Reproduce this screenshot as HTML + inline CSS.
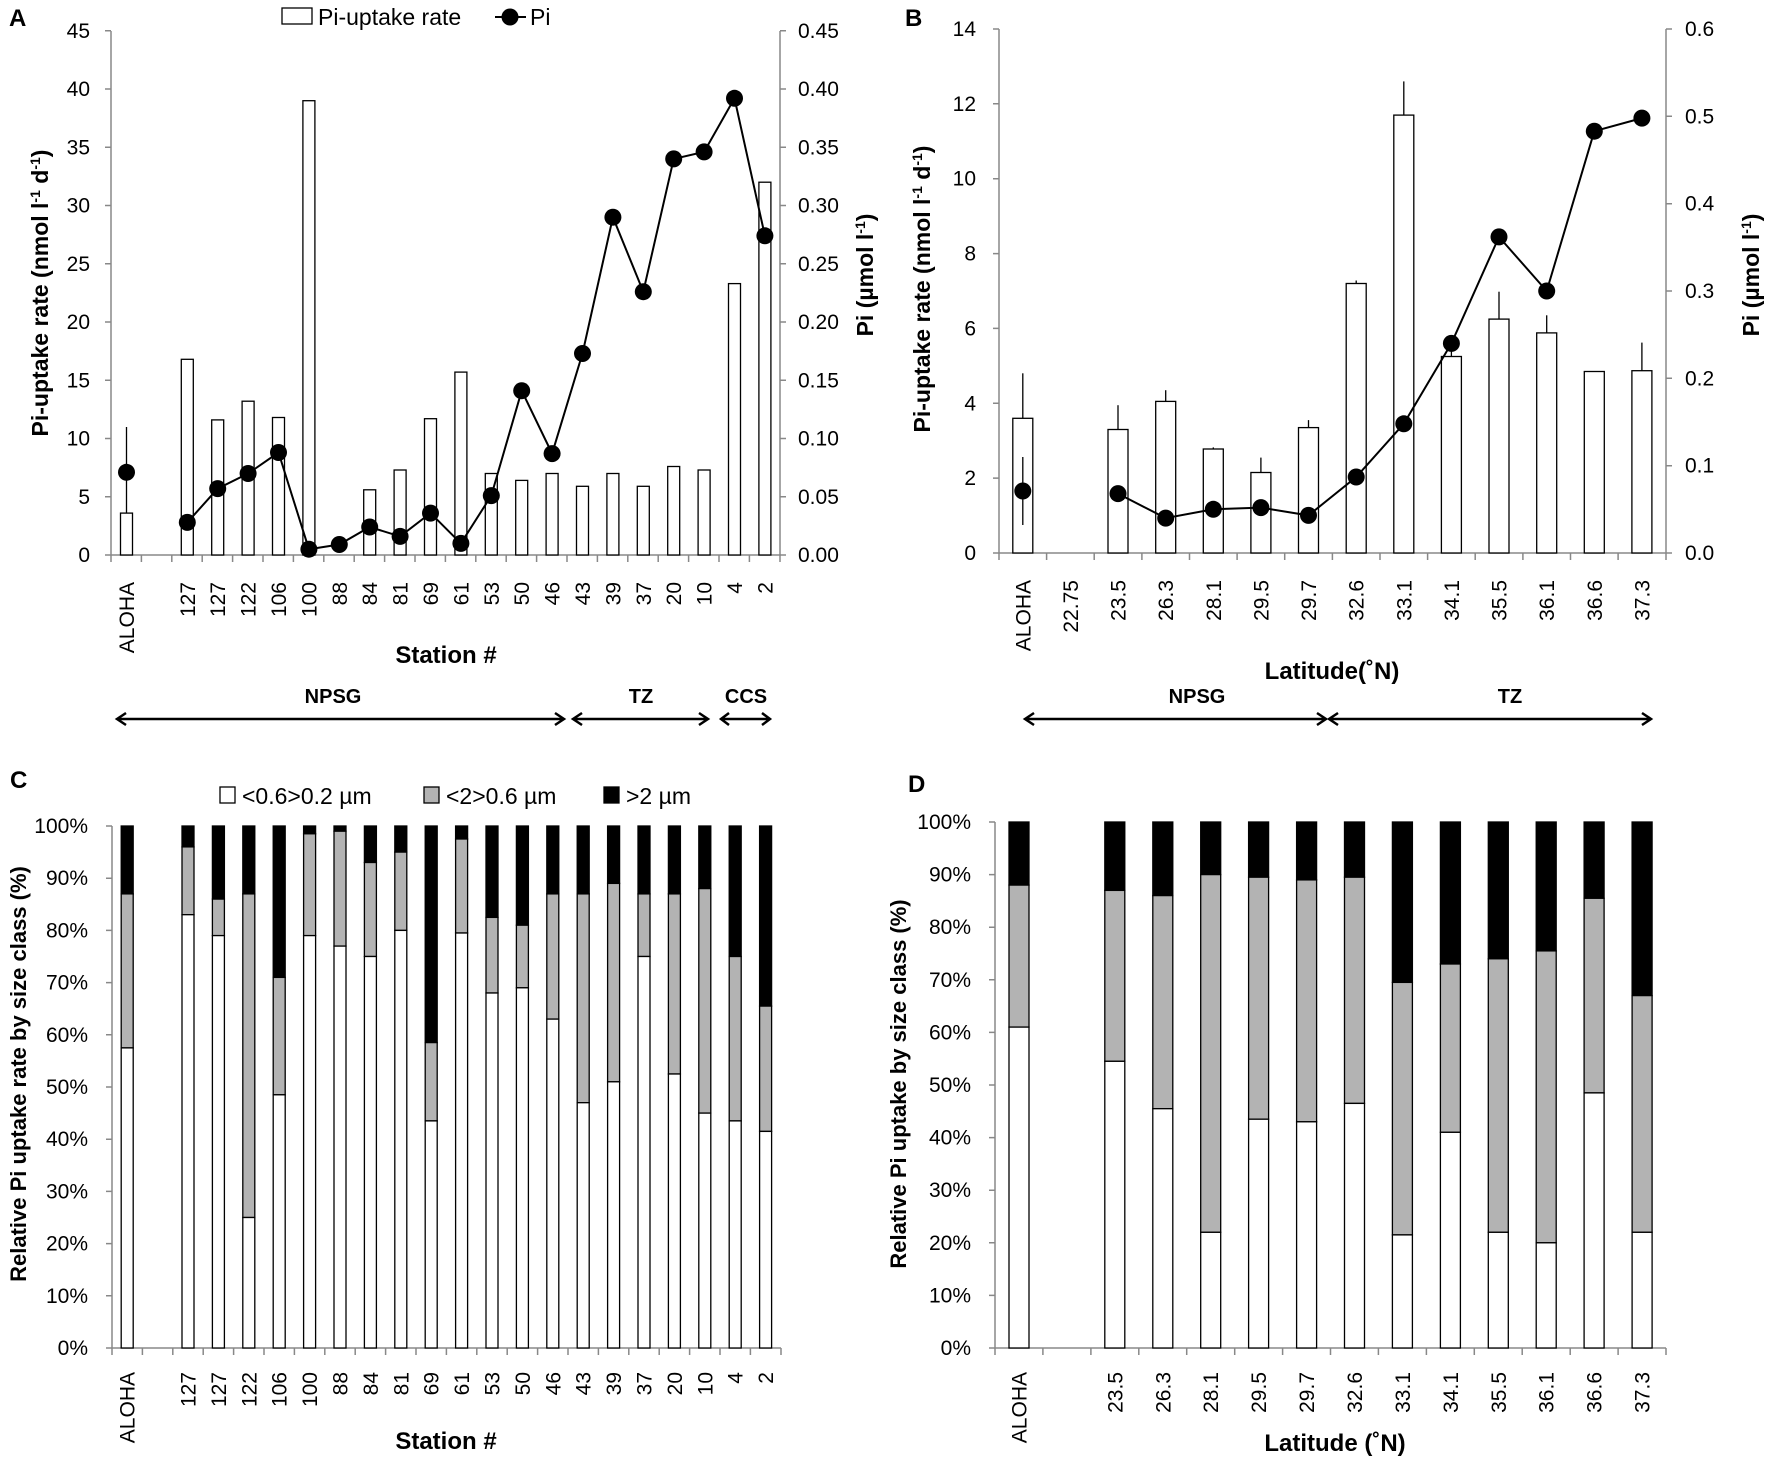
<!DOCTYPE html>
<html><head><meta charset="utf-8"><style>
html,body{margin:0;padding:0;background:#fff}
svg{display:block}
text{font-family:"Liberation Sans",sans-serif;fill:#000}
.t{font-size:21px}
.b{font-weight:bold}
.ax{stroke:#888;stroke-width:1.5;fill:none}
.bar{fill:#fff;stroke:#000;stroke-width:1.3}
.gr{fill:#b3b3b3;stroke:#000;stroke-width:1.3}
.bk{fill:#000;stroke:#000;stroke-width:1.3}
.ln{stroke:#000;stroke-width:2;fill:none}
.er{stroke:#000;stroke-width:1.3}
.arr{stroke:#000;stroke-width:2.5;fill:none}
</style></head><body>
<svg width="1772" height="1460" viewBox="0 0 1772 1460" xmlns="http://www.w3.org/2000/svg">
<!-- ===== PANEL A ===== -->
<text x="9" y="26" class="b" font-size="24">A</text>
<rect x="282" y="8" width="30" height="16" class="bar"/>
<text x="318" y="25" font-size="23">Pi-uptake rate</text>
<line x1="495" y1="17" x2="526" y2="17" class="ln"/><circle cx="510" cy="17" r="8.5"/>
<text x="530" y="25" font-size="23">Pi</text>
<path class="ax" d="M111,31 V555 H780 V31"/>
<path class="ax" d="M105,555H111M105,496.75H111M105,438.5H111M105,380.25H111M105,322H111M105,263.75H111M105,205.5H111M105,147.25H111M105,89H111M105,30.75H111"/>
<path class="ax" d="M780,555H786M780,496.75H786M780,438.5H786M780,380.25H786M780,322H786M780,263.75H786M780,205.5H786M780,147.25H786M780,89H786M780,30.75H786"/>
<path class="ax" d="M111,555v7M141.4,555v7M171.8,555v7M202.2,555v7M232.6,555v7M263,555v7M293.4,555v7M323.8,555v7M354.2,555v7M384.6,555v7M415,555v7M445.4,555v7M475.8,555v7M506.2,555v7M536.6,555v7M567,555v7M597.4,555v7M627.8,555v7M658.2,555v7M688.6,555v7M719,555v7M749.4,555v7M780,555v7"/>
<g class="t" text-anchor="end">
<text x="90" y="562">0</text><text x="90" y="503.75">5</text><text x="90" y="445.5">10</text><text x="90" y="387.25">15</text><text x="90" y="329">20</text><text x="90" y="270.75">25</text><text x="90" y="212.5">30</text><text x="90" y="154.25">35</text><text x="90" y="96">40</text><text x="90" y="37.75">45</text>
</g>
<g class="t">
<text x="798" y="562">0.00</text><text x="798" y="503.75">0.05</text><text x="798" y="445.5">0.10</text><text x="798" y="387.25">0.15</text><text x="798" y="329">0.20</text><text x="798" y="270.75">0.25</text><text x="798" y="212.5">0.30</text><text x="798" y="154.25">0.35</text><text x="798" y="96">0.40</text><text x="798" y="37.75">0.45</text>
</g>
<text transform="translate(48,293) rotate(-90)" text-anchor="middle" class="b" font-size="23">Pi-uptake rate (nmol l<tspan font-size="14" dy="-8">-1</tspan><tspan dy="8"> d</tspan><tspan font-size="14" dy="-8">-1</tspan><tspan dy="8">)</tspan></text>
<text transform="translate(873,275) rotate(-90)" text-anchor="middle" class="b" font-size="23">Pi (µmol l<tspan font-size="14" dy="-8">-1</tspan><tspan dy="8">)</tspan></text>
<g class="bar">
<rect x="120.5" y="513.1" width="12" height="41.9"/>
<rect x="181.3" y="359.3" width="12" height="195.7"/>
<rect x="211.7" y="419.9" width="12" height="135.1"/>
<rect x="242.1" y="401.2" width="12" height="153.8"/>
<rect x="272.5" y="417.5" width="12" height="137.5"/>
<rect x="302.9" y="100.7" width="12" height="454.3"/>
<rect x="363.7" y="489.8" width="12" height="65.2"/>
<rect x="394.1" y="470" width="12" height="85"/>
<rect x="424.5" y="418.7" width="12" height="136.3"/>
<rect x="454.9" y="372.1" width="12" height="182.9"/>
<rect x="485.3" y="473.5" width="12" height="81.5"/>
<rect x="515.7" y="480.4" width="12" height="74.6"/>
<rect x="546.1" y="473.5" width="12" height="81.5"/>
<rect x="576.5" y="486.3" width="12" height="68.7"/>
<rect x="606.9" y="473.5" width="12" height="81.5"/>
<rect x="637.3" y="486.3" width="12" height="68.7"/>
<rect x="667.7" y="466.5" width="12" height="88.5"/>
<rect x="698.1" y="470" width="12" height="85"/>
<rect x="728.5" y="283.6" width="12" height="271.4"/>
<rect x="758.9" y="182.2" width="12" height="372.8"/>
</g>
<line x1="126.5" y1="427" x2="126.5" y2="513" class="er"/>
<polyline class="ln" points="187.3,522.4 217.7,488.6 248.1,473.5 278.5,452.5 308.9,549.2 339.3,544.5 369.7,527 400.1,536.4 430.5,513.1 460.9,543.4 491.3,495.6 521.7,390.7 552.1,453.6 582.5,353.5 612.9,217.2 643.3,291.7 673.7,158.9 704.1,151.9 734.5,98.3 764.9,235.8"/>
<g>
<circle cx="126.5" cy="472.3" r="8.5"/><circle cx="187.3" cy="522.4" r="8.5"/><circle cx="217.7" cy="488.6" r="8.5"/><circle cx="248.1" cy="473.5" r="8.5"/><circle cx="278.5" cy="452.5" r="8.5"/><circle cx="308.9" cy="549.2" r="8.5"/><circle cx="339.3" cy="544.5" r="8.5"/><circle cx="369.7" cy="527" r="8.5"/><circle cx="400.1" cy="536.4" r="8.5"/><circle cx="430.5" cy="513.1" r="8.5"/><circle cx="460.9" cy="543.4" r="8.5"/><circle cx="491.3" cy="495.6" r="8.5"/><circle cx="521.7" cy="390.7" r="8.5"/><circle cx="552.1" cy="453.6" r="8.5"/><circle cx="582.5" cy="353.5" r="8.5"/><circle cx="612.9" cy="217.2" r="8.5"/><circle cx="643.3" cy="291.7" r="8.5"/><circle cx="673.7" cy="158.9" r="8.5"/><circle cx="704.1" cy="151.9" r="8.5"/><circle cx="734.5" cy="98.3" r="8.5"/><circle cx="764.9" cy="235.8" r="8.5"/>
</g>
<g class="t" text-anchor="end">
<text transform="translate(134,582) rotate(-90)">ALOHA</text>
<text transform="translate(194.8,582) rotate(-90)">127</text>
<text transform="translate(225.2,582) rotate(-90)">127</text>
<text transform="translate(255.6,582) rotate(-90)">122</text>
<text transform="translate(286,582) rotate(-90)">106</text>
<text transform="translate(316.4,582) rotate(-90)">100</text>
<text transform="translate(346.8,582) rotate(-90)">88</text>
<text transform="translate(377.2,582) rotate(-90)">84</text>
<text transform="translate(407.6,582) rotate(-90)">81</text>
<text transform="translate(438,582) rotate(-90)">69</text>
<text transform="translate(468.4,582) rotate(-90)">61</text>
<text transform="translate(498.8,582) rotate(-90)">53</text>
<text transform="translate(529.2,582) rotate(-90)">50</text>
<text transform="translate(559.6,582) rotate(-90)">46</text>
<text transform="translate(590,582) rotate(-90)">43</text>
<text transform="translate(620.4,582) rotate(-90)">39</text>
<text transform="translate(650.8,582) rotate(-90)">37</text>
<text transform="translate(681.2,582) rotate(-90)">20</text>
<text transform="translate(711.6,582) rotate(-90)">10</text>
<text transform="translate(742,582) rotate(-90)">4</text>
<text transform="translate(772.4,582) rotate(-90)">2</text>
</g>
<text x="446" y="663" text-anchor="middle" class="b" font-size="24">Station #</text>
<g class="b" font-size="20" text-anchor="middle">
<text x="333" y="703">NPSG</text><text x="641" y="703">TZ</text><text x="746" y="703">CCS</text>
</g>
<path class="arr" d="M117,719H564M126,713L117,719L126,725M555,713L564,719L555,725"/>
<path class="arr" d="M573,719H708M582,713L573,719L582,725M699,713L708,719L699,725"/>
<path class="arr" d="M721,719H770M729,713L721,719L729,725M762,713L770,719L762,725"/>

<!-- ===== PANEL B ===== -->
<text x="905" y="26" class="b" font-size="24">B</text>
<path class="ax" d="M999,29 V553 H1666 V29"/>
<path class="ax" d="M993,553H999M993,478.1H999M993,403.3H999M993,328.4H999M993,253.6H999M993,178.7H999M993,103.8H999M993,29H999"/>
<path class="ax" d="M1666,553H1672M1666,465.7H1672M1666,378.3H1672M1666,291H1672M1666,203.7H1672M1666,116.3H1672M1666,29H1672"/>
<path class="ax" d="M999,553v7M1046.6,553v7M1094.2,553v7M1141.9,553v7M1189.5,553v7M1237.1,553v7M1284.7,553v7M1332.4,553v7M1380,553v7M1427.6,553v7M1475.2,553v7M1522.9,553v7M1570.5,553v7M1618.1,553v7M1666,553v7"/>
<g class="t" text-anchor="end">
<text x="976" y="560">0</text><text x="976" y="485.1">2</text><text x="976" y="410.3">4</text><text x="976" y="335.4">6</text><text x="976" y="260.6">8</text><text x="976" y="185.7">10</text><text x="976" y="110.8">12</text><text x="976" y="36">14</text>
</g>
<g class="t">
<text x="1685" y="560">0.0</text><text x="1685" y="472.7">0.1</text><text x="1685" y="385.3">0.2</text><text x="1685" y="298">0.3</text><text x="1685" y="210.7">0.4</text><text x="1685" y="123.3">0.5</text><text x="1685" y="36">0.6</text>
</g>
<text transform="translate(930,289) rotate(-90)" text-anchor="middle" class="b" font-size="23">Pi-uptake rate (nmol l<tspan font-size="14" dy="-8">-1</tspan><tspan dy="8"> d</tspan><tspan font-size="14" dy="-8">-1</tspan><tspan dy="8">)</tspan></text>
<text transform="translate(1759,275) rotate(-90)" text-anchor="middle" class="b" font-size="23">Pi (µmol l<tspan font-size="14" dy="-8">-1</tspan><tspan dy="8">)</tspan></text>
<g class="er">
<line x1="1022.8" y1="373.3" x2="1022.8" y2="418.3"/>
<line x1="1118" y1="405.2" x2="1118" y2="429.5"/>
<line x1="1165.7" y1="390.2" x2="1165.7" y2="401.4"/>
<line x1="1213.3" y1="447.4" x2="1213.3" y2="449"/>
<line x1="1260.9" y1="457.6" x2="1260.9" y2="472.5"/>
<line x1="1308.5" y1="420.1" x2="1308.5" y2="427.6"/>
<line x1="1356.2" y1="280.5" x2="1356.2" y2="283.5"/>
<line x1="1403.8" y1="81.4" x2="1403.8" y2="115.1"/>
<line x1="1451.4" y1="350.9" x2="1451.4" y2="356.5"/>
<line x1="1499" y1="291.7" x2="1499" y2="319.1"/>
<line x1="1546.7" y1="315.3" x2="1546.7" y2="332.9"/>
<line x1="1641.9" y1="342.6" x2="1641.9" y2="370.7"/>
</g>
<g class="bar">
<rect x="1012.8" y="418.3" width="20" height="134.7"/>
<rect x="1108" y="429.5" width="20" height="123.5"/>
<rect x="1155.7" y="401.4" width="20" height="151.6"/>
<rect x="1203.3" y="449" width="20" height="104"/>
<rect x="1250.9" y="472.5" width="20" height="80.5"/>
<rect x="1298.5" y="427.6" width="20" height="125.4"/>
<rect x="1346.2" y="283.5" width="20" height="269.5"/>
<rect x="1393.8" y="115.1" width="20" height="437.9"/>
<rect x="1441.4" y="356.5" width="20" height="196.5"/>
<rect x="1489" y="319.1" width="20" height="233.9"/>
<rect x="1536.7" y="332.9" width="20" height="220.1"/>
<rect x="1584.3" y="371.5" width="20" height="181.5"/>
<rect x="1631.9" y="370.7" width="20" height="182.3"/>
</g>
<line x1="1022.8" y1="457" x2="1022.8" y2="525" class="er"/>
<polyline class="ln" points="1118,493.6 1165.7,518.1 1213.3,509.3 1260.9,507.6 1308.5,515.4 1356.2,477 1403.8,423.8 1451.4,343.4 1499,236.9 1546.7,291 1594.3,131.2 1641.9,118.1"/>
<g>
<circle cx="1022.8" cy="491" r="8.5"/><circle cx="1118" cy="493.6" r="8.5"/><circle cx="1165.7" cy="518.1" r="8.5"/><circle cx="1213.3" cy="509.3" r="8.5"/><circle cx="1260.9" cy="507.6" r="8.5"/><circle cx="1308.5" cy="515.4" r="8.5"/><circle cx="1356.2" cy="477" r="8.5"/><circle cx="1403.8" cy="423.8" r="8.5"/><circle cx="1451.4" cy="343.4" r="8.5"/><circle cx="1499" cy="236.9" r="8.5"/><circle cx="1546.7" cy="291" r="8.5"/><circle cx="1594.3" cy="131.2" r="8.5"/><circle cx="1641.9" cy="118.1" r="8.5"/>
</g>
<g class="t" text-anchor="end">
<text transform="translate(1030.3,580) rotate(-90)">ALOHA</text>
<text transform="translate(1077.9,580) rotate(-90)">22.75</text>
<text transform="translate(1125.5,580) rotate(-90)">23.5</text>
<text transform="translate(1173.2,580) rotate(-90)">26.3</text>
<text transform="translate(1220.8,580) rotate(-90)">28.1</text>
<text transform="translate(1268.4,580) rotate(-90)">29.5</text>
<text transform="translate(1316,580) rotate(-90)">29.7</text>
<text transform="translate(1363.7,580) rotate(-90)">32.6</text>
<text transform="translate(1411.3,580) rotate(-90)">33.1</text>
<text transform="translate(1458.9,580) rotate(-90)">34.1</text>
<text transform="translate(1506.5,580) rotate(-90)">35.5</text>
<text transform="translate(1554.2,580) rotate(-90)">36.1</text>
<text transform="translate(1601.8,580) rotate(-90)">36.6</text>
<text transform="translate(1649.4,580) rotate(-90)">37.3</text>
</g>
<text x="1332" y="679" text-anchor="middle" class="b" font-size="24">Latitude(˚N)</text>
<g class="b" font-size="20" text-anchor="middle">
<text x="1197" y="703">NPSG</text><text x="1510" y="703">TZ</text>
</g>
<path class="arr" d="M1025,719H1326M1034,713L1025,719L1034,725M1317,713L1326,719L1317,725"/>
<path class="arr" d="M1329,719H1651M1338,713L1329,719L1338,725M1642,713L1651,719L1642,725"/>

<!-- ===== PANEL C ===== -->
<text x="10" y="788" class="b" font-size="24">C</text>
<rect x="220" y="787" width="15" height="16" class="bar"/><text x="242" y="804" font-size="23">&lt;0.6&gt;0.2 µm</text>
<rect x="424" y="787" width="15" height="16" class="gr"/><text x="446" y="804" font-size="23">&lt;2&gt;0.6 µm</text>
<rect x="604" y="787" width="15" height="16" class="bk"/><text x="626" y="804" font-size="23">&gt;2 µm</text>
<path class="ax" d="M112,826 V1348 H781"/>
<path class="ax" d="M106,1348H112M106,1295.8H112M106,1243.6H112M106,1191.4H112M106,1139.2H112M106,1087H112M106,1034.8H112M106,982.6H112M106,930.4H112M106,878.2H112M106,826H112"/>
<path class="ax" d="M112,1348v7M142.4,1348v7M172.8,1348v7M203.2,1348v7M233.6,1348v7M264,1348v7M294.4,1348v7M324.8,1348v7M355.2,1348v7M385.6,1348v7M416,1348v7M446.4,1348v7M476.8,1348v7M507.2,1348v7M537.6,1348v7M568,1348v7M598.4,1348v7M628.8,1348v7M659.2,1348v7M689.6,1348v7M720,1348v7M750.4,1348v7M781,1348v7"/>
<g class="t" text-anchor="end">
<text x="88" y="1355">0%</text><text x="88" y="1302.8">10%</text><text x="88" y="1250.6">20%</text><text x="88" y="1198.4">30%</text><text x="88" y="1146.2">40%</text><text x="88" y="1094">50%</text><text x="88" y="1041.8">60%</text><text x="88" y="989.6">70%</text><text x="88" y="937.4">80%</text><text x="88" y="885.2">90%</text><text x="88" y="833">100%</text>
</g>
<text transform="translate(26,1074) rotate(-90)" text-anchor="middle" class="b" font-size="22">Relative Pi uptake rate by size class (%)</text>
<g>
<rect class="bk" x="121.2" y="826" width="12" height="67.9"/><rect class="gr" x="121.2" y="893.9" width="12" height="154"/><rect class="bar" x="121.2" y="1047.9" width="12" height="300.1"/>
<rect class="bk" x="182" y="826" width="12" height="20.9"/><rect class="gr" x="182" y="846.9" width="12" height="67.8"/><rect class="bar" x="182" y="914.7" width="12" height="433.3"/>
<rect class="bk" x="212.4" y="826" width="12" height="73.1"/><rect class="gr" x="212.4" y="899.1" width="12" height="36.5"/><rect class="bar" x="212.4" y="935.6" width="12" height="412.4"/>
<rect class="bk" x="242.8" y="826" width="12" height="67.9"/><rect class="gr" x="242.8" y="893.9" width="12" height="323.6"/><rect class="bar" x="242.8" y="1217.5" width="12" height="130.5"/>
<rect class="bk" x="273.2" y="826" width="12" height="151.4"/><rect class="gr" x="273.2" y="977.4" width="12" height="117.4"/><rect class="bar" x="273.2" y="1094.8" width="12" height="253.2"/>
<rect class="bk" x="303.6" y="826" width="12" height="7.8"/><rect class="gr" x="303.6" y="833.8" width="12" height="101.8"/><rect class="bar" x="303.6" y="935.6" width="12" height="412.4"/>
<rect class="bk" x="334" y="826" width="12" height="5.2"/><rect class="gr" x="334" y="831.2" width="12" height="114.9"/><rect class="bar" x="334" y="946.1" width="12" height="401.9"/>
<rect class="bk" x="364.4" y="826" width="12" height="36.5"/><rect class="gr" x="364.4" y="862.5" width="12" height="94"/><rect class="bar" x="364.4" y="956.5" width="12" height="391.5"/>
<rect class="bk" x="394.8" y="826" width="12" height="26.1"/><rect class="gr" x="394.8" y="852.1" width="12" height="78.3"/><rect class="bar" x="394.8" y="930.4" width="12" height="417.6"/>
<rect class="bk" x="425.2" y="826" width="12" height="216.6"/><rect class="gr" x="425.2" y="1042.6" width="12" height="78.3"/><rect class="bar" x="425.2" y="1120.9" width="12" height="227.1"/>
<rect class="bk" x="455.6" y="826" width="12" height="13"/><rect class="gr" x="455.6" y="839" width="12" height="94"/><rect class="bar" x="455.6" y="933" width="12" height="415"/>
<rect class="bk" x="486" y="826" width="12" height="91.4"/><rect class="gr" x="486" y="917.4" width="12" height="75.6"/><rect class="bar" x="486" y="993" width="12" height="355"/>
<rect class="bk" x="516.4" y="826" width="12" height="99.2"/><rect class="gr" x="516.4" y="925.2" width="12" height="62.6"/><rect class="bar" x="516.4" y="987.8" width="12" height="360.2"/>
<rect class="bk" x="546.8" y="826" width="12" height="67.9"/><rect class="gr" x="546.8" y="893.9" width="12" height="125.2"/><rect class="bar" x="546.8" y="1019.1" width="12" height="328.9"/>
<rect class="bk" x="577.2" y="826" width="12" height="67.9"/><rect class="gr" x="577.2" y="893.9" width="12" height="208.8"/><rect class="bar" x="577.2" y="1102.7" width="12" height="245.3"/>
<rect class="bk" x="607.6" y="826" width="12" height="57.4"/><rect class="gr" x="607.6" y="883.4" width="12" height="198.4"/><rect class="bar" x="607.6" y="1081.8" width="12" height="266.2"/>
<rect class="bk" x="638" y="826" width="12" height="67.9"/><rect class="gr" x="638" y="893.9" width="12" height="62.6"/><rect class="bar" x="638" y="956.5" width="12" height="391.5"/>
<rect class="bk" x="668.4" y="826" width="12" height="67.9"/><rect class="gr" x="668.4" y="893.9" width="12" height="180.1"/><rect class="bar" x="668.4" y="1074" width="12" height="274"/>
<rect class="bk" x="698.8" y="826" width="12" height="62.6"/><rect class="gr" x="698.8" y="888.6" width="12" height="224.5"/><rect class="bar" x="698.8" y="1113.1" width="12" height="234.9"/>
<rect class="bk" x="729.2" y="826" width="12" height="130.5"/><rect class="gr" x="729.2" y="956.5" width="12" height="164.4"/><rect class="bar" x="729.2" y="1120.9" width="12" height="227.1"/>
<rect class="bk" x="759.6" y="826" width="12" height="180.1"/><rect class="gr" x="759.6" y="1006.1" width="12" height="125.3"/><rect class="bar" x="759.6" y="1131.4" width="12" height="216.6"/>
</g>
<g class="t" text-anchor="end">
<text transform="translate(134.7,1372) rotate(-90)">ALOHA</text>
<text transform="translate(195.5,1372) rotate(-90)">127</text>
<text transform="translate(225.9,1372) rotate(-90)">127</text>
<text transform="translate(256.3,1372) rotate(-90)">122</text>
<text transform="translate(286.7,1372) rotate(-90)">106</text>
<text transform="translate(317.1,1372) rotate(-90)">100</text>
<text transform="translate(347.5,1372) rotate(-90)">88</text>
<text transform="translate(377.9,1372) rotate(-90)">84</text>
<text transform="translate(408.3,1372) rotate(-90)">81</text>
<text transform="translate(438.7,1372) rotate(-90)">69</text>
<text transform="translate(469.1,1372) rotate(-90)">61</text>
<text transform="translate(499.5,1372) rotate(-90)">53</text>
<text transform="translate(529.9,1372) rotate(-90)">50</text>
<text transform="translate(560.3,1372) rotate(-90)">46</text>
<text transform="translate(590.7,1372) rotate(-90)">43</text>
<text transform="translate(621.1,1372) rotate(-90)">39</text>
<text transform="translate(651.5,1372) rotate(-90)">37</text>
<text transform="translate(681.9,1372) rotate(-90)">20</text>
<text transform="translate(712.3,1372) rotate(-90)">10</text>
<text transform="translate(742.7,1372) rotate(-90)">4</text>
<text transform="translate(773.1,1372) rotate(-90)">2</text>
</g>
<text x="446" y="1449" text-anchor="middle" class="b" font-size="24">Station #</text>

<!-- ===== PANEL D ===== -->
<text x="908" y="792" class="b" font-size="24">D</text>
<path class="ax" d="M995,822 V1348 H1666"/>
<path class="ax" d="M989,1348H995M989,1295.4H995M989,1242.8H995M989,1190.2H995M989,1137.6H995M989,1085H995M989,1032.4H995M989,979.8H995M989,927.2H995M989,874.6H995M989,822H995"/>
<path class="ax" d="M995,1348v7M1042.9,1348v7M1090.9,1348v7M1138.8,1348v7M1186.7,1348v7M1234.7,1348v7M1282.6,1348v7M1330.5,1348v7M1378.4,1348v7M1426.4,1348v7M1474.3,1348v7M1522.2,1348v7M1570.2,1348v7M1618.1,1348v7M1666,1348v7"/>
<g class="t" text-anchor="end">
<text x="971" y="1355">0%</text><text x="971" y="1302.4">10%</text><text x="971" y="1249.8">20%</text><text x="971" y="1197.2">30%</text><text x="971" y="1144.6">40%</text><text x="971" y="1092">50%</text><text x="971" y="1039.4">60%</text><text x="971" y="986.8">70%</text><text x="971" y="934.2">80%</text><text x="971" y="881.6">90%</text><text x="971" y="829">100%</text>
</g>
<text transform="translate(906,1084) rotate(-90)" text-anchor="middle" class="b" font-size="22">Relative Pi uptake by size class (%)</text>
<g>
<rect class="bk" x="1009" y="822" width="20" height="63.1"/><rect class="gr" x="1009" y="885.1" width="20" height="142"/><rect class="bar" x="1009" y="1027.1" width="20" height="320.9"/>
<rect class="bk" x="1104.8" y="822" width="20" height="68.4"/><rect class="gr" x="1104.8" y="890.4" width="20" height="170.9"/><rect class="bar" x="1104.8" y="1061.3" width="20" height="286.7"/>
<rect class="bk" x="1152.8" y="822" width="20" height="73.6"/><rect class="gr" x="1152.8" y="895.6" width="20" height="213.1"/><rect class="bar" x="1152.8" y="1108.7" width="20" height="239.3"/>
<rect class="bk" x="1200.7" y="822" width="20" height="52.6"/><rect class="gr" x="1200.7" y="874.6" width="20" height="357.7"/><rect class="bar" x="1200.7" y="1232.3" width="20" height="115.7"/>
<rect class="bk" x="1248.6" y="822" width="20" height="55.2"/><rect class="gr" x="1248.6" y="877.2" width="20" height="242"/><rect class="bar" x="1248.6" y="1119.2" width="20" height="228.8"/>
<rect class="bk" x="1296.6" y="822" width="20" height="57.9"/><rect class="gr" x="1296.6" y="879.9" width="20" height="241.9"/><rect class="bar" x="1296.6" y="1121.8" width="20" height="226.2"/>
<rect class="bk" x="1344.5" y="822" width="20" height="55.2"/><rect class="gr" x="1344.5" y="877.2" width="20" height="226.2"/><rect class="bar" x="1344.5" y="1103.4" width="20" height="244.6"/>
<rect class="bk" x="1392.4" y="822" width="20" height="160.4"/><rect class="gr" x="1392.4" y="982.4" width="20" height="252.5"/><rect class="bar" x="1392.4" y="1234.9" width="20" height="113.1"/>
<rect class="bk" x="1440.4" y="822" width="20" height="142"/><rect class="gr" x="1440.4" y="964" width="20" height="168.3"/><rect class="bar" x="1440.4" y="1132.3" width="20" height="215.7"/>
<rect class="bk" x="1488.3" y="822" width="20" height="136.8"/><rect class="gr" x="1488.3" y="958.8" width="20" height="273.5"/><rect class="bar" x="1488.3" y="1232.3" width="20" height="115.7"/>
<rect class="bk" x="1536.2" y="822" width="20" height="128.9"/><rect class="gr" x="1536.2" y="950.9" width="20" height="291.9"/><rect class="bar" x="1536.2" y="1242.8" width="20" height="105.2"/>
<rect class="bk" x="1584.1" y="822" width="20" height="76.3"/><rect class="gr" x="1584.1" y="898.3" width="20" height="194.6"/><rect class="bar" x="1584.1" y="1092.9" width="20" height="255.1"/>
<rect class="bk" x="1632.1" y="822" width="20" height="173.6"/><rect class="gr" x="1632.1" y="995.6" width="20" height="236.7"/><rect class="bar" x="1632.1" y="1232.3" width="20" height="115.7"/>
</g>
<g class="t" text-anchor="end">
<text transform="translate(1026.5,1372) rotate(-90)">ALOHA</text>
<text transform="translate(1122.3,1372) rotate(-90)">23.5</text>
<text transform="translate(1170.3,1372) rotate(-90)">26.3</text>
<text transform="translate(1218.2,1372) rotate(-90)">28.1</text>
<text transform="translate(1266.1,1372) rotate(-90)">29.5</text>
<text transform="translate(1314.1,1372) rotate(-90)">29.7</text>
<text transform="translate(1362,1372) rotate(-90)">32.6</text>
<text transform="translate(1409.9,1372) rotate(-90)">33.1</text>
<text transform="translate(1457.9,1372) rotate(-90)">34.1</text>
<text transform="translate(1505.8,1372) rotate(-90)">35.5</text>
<text transform="translate(1553.7,1372) rotate(-90)">36.1</text>
<text transform="translate(1601.6,1372) rotate(-90)">36.6</text>
<text transform="translate(1649.6,1372) rotate(-90)">37.3</text>
</g>
<text x="1335" y="1451" text-anchor="middle" class="b" font-size="24">Latitude (˚N)</text>
</svg>
</body></html>
